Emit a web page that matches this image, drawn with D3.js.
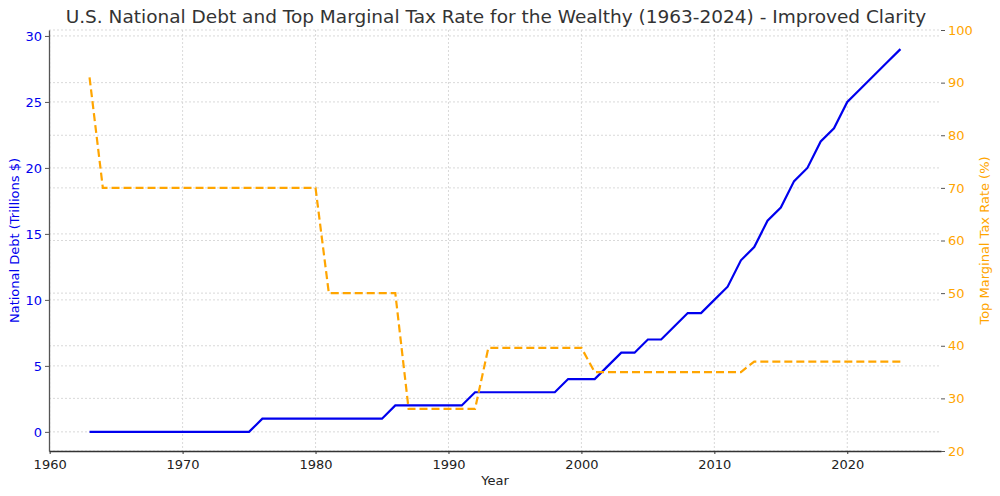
<!DOCTYPE html>
<html>
<head>
<meta charset="utf-8">
<script src="https://cdn.jsdelivr.net/npm/d3@7"></script>
<style>
  body { margin: 0; background: #fff; }
  text { font-family: "DejaVu Sans", sans-serif; }
</style>
</head>
<body>
<div id="chart"></div>
<script>
// years 1963..2024
const years = d3.range(1963, 2025);

// national debt, trillions $
const debt = [
  0, 0, 0, 0, 0, 0, 0, 0, 0, 0, 0, 0, 0,      // 1963-1975
  1, 1, 1, 1, 1, 1, 1, 1, 1, 1,               // 1976-1985
  2, 2, 2, 2, 2, 2,                           // 1986-1991
  3, 3, 3, 3, 3, 3, 3,                        // 1992-1998
  4, 4, 4,                                    // 1999-2001
  5, 6, 6, 7, 7, 8, 9, 9, 10, 11,             // 2002-2011
  13, 14, 16, 17, 19, 20, 22, 23, 25,         // 2012-2020
  26, 27, 28, 29                              // 2021-2024
];

// top marginal tax rate, %
const taxRate = [
  91,                                                          // 1963
  70, 70, 70, 70, 70, 70, 70, 70, 70, 70, 70, 70, 70, 70, 70, 70, 70, // 1964-1980
  50, 50, 50, 50, 50, 50,                                      // 1981-1986
  28, 28, 28, 28, 28, 28,                                      // 1987-1992
  39.6, 39.6, 39.6, 39.6, 39.6, 39.6, 39.6, 39.6,              // 1993-2000
  35, 35, 35, 35, 35, 35, 35, 35, 35, 35, 35, 35,              // 2001-2012
  37, 37, 37, 37, 37, 37, 37, 37, 37, 37, 37, 37               // 2013-2024
];

const xTicks = [1960, 1970, 1980, 1990, 2000, 2010, 2020];
const debtTicks = [0, 5, 10, 15, 20, 25, 30];
const taxTicks = [20, 30, 40, 50, 60, 70, 80, 90, 100];

const data = years.map((y, i) => ({year: y, debt: debt[i], tax: taxRate[i]}));

const W = 1000, H = 496;
const margin = {top: 30, right: 59, bottom: 45, left: 49};
const width = W - margin.left - margin.right;
const height = H - margin.top - margin.bottom;

const svg = d3.select('#chart').append('svg')
    .attr('width', W)
    .attr('height', H);

svg.append('text')
    .attr('x', 496)
    .attr('y', 23)
    .attr('text-anchor', 'middle')
    .attr('fill', '#333')
    .style('font-size', '18.5px')
    .text('U.S. National Debt and Top Marginal Tax Rate for the Wealthy (1963-2024) - Improved Clarity');

const g = svg.append('g')
    .attr('transform', `translate(${margin.left},${margin.top})`);

const xPad = (2024 - 1963) * 0.05;
const x = d3.scaleLinear()
    .domain([1963 - xPad, 2024 + xPad])
    .range([0, width]);

const yPad = 29 * 0.05;
const yL = d3.scaleLinear()
    .domain([-yPad, 29 + yPad])
    .range([height, 0]);

const yR = d3.scaleLinear()
    .domain([20, 100])
    .range([height, 0]);

// grid
const grid = g.append('g')
    .attr('stroke', '#cfcfcf')
    .attr('stroke-width', 0.8)
    .attr('stroke-dasharray', '2,2');

grid.selectAll('.gx')
    .data(xTicks)
    .enter().append('line')
    .attr('x1', d => x(d)).attr('x2', d => x(d))
    .attr('y1', 0).attr('y2', height);

grid.selectAll('.gl')
    .data(debtTicks)
    .enter().append('line')
    .attr('x1', 0).attr('x2', width)
    .attr('y1', d => yL(d)).attr('y2', d => yL(d));

grid.selectAll('.gr')
    .data(taxTicks)
    .enter().append('line')
    .attr('x1', 0).attr('x2', width)
    .attr('y1', d => yR(d)).attr('y2', d => yR(d));

// lines
const debtLine = d3.line()
    .x(d => x(d.year))
    .y(d => yL(d.debt));

const taxLine = d3.line()
    .x(d => x(d.year))
    .y(d => yR(d.tax));

g.append('path')
    .datum(data)
    .attr('fill', 'none')
    .attr('stroke', '#0000ee')
    .attr('stroke-width', 2.2)
    .attr('d', debtLine);

g.append('path')
    .datum(data)
    .attr('fill', 'none')
    .attr('stroke', '#ffa500')
    .attr('stroke-width', 2.2)
    .attr('stroke-dasharray', '8,4')
    .attr('d', taxLine);

// axes
const xAxis = g.append('g')
    .attr('transform', `translate(0,${height})`)
    .call(d3.axisBottom(x).tickValues(xTicks).tickFormat(d3.format('d')).tickSize(3).tickSizeOuter(0));
xAxis.select('.domain').attr('stroke', '#333').attr('stroke-width', 1.3);
xAxis.selectAll('.tick line').attr('stroke', '#333');
xAxis.selectAll('text').attr('fill', '#222').style('font-size', '13px').attr('dy', '0.9em');

const leftAxis = g.append('g')
    .call(d3.axisLeft(yL).tickValues(debtTicks).tickSize(4).tickSizeOuter(0));
leftAxis.select('.domain').attr('stroke', '#555').attr('stroke-width', 1.3);
leftAxis.selectAll('.tick line').attr('stroke', '#555');
leftAxis.selectAll('text').attr('fill', '#0000ee').style('font-size', '13px');

const rightAxis = g.append('g')
    .attr('transform', `translate(${width},0)`)
    .call(d3.axisRight(yR).tickValues(taxTicks).tickSize(4).tickSizeOuter(0));
rightAxis.select('.domain').remove();
rightAxis.selectAll('.tick line').attr('stroke', '#555');
rightAxis.selectAll('text').attr('fill', '#ffa500').style('font-size', '13px');

// axis labels
svg.append('text')
    .attr('x', margin.left + width / 2)
    .attr('y', 485)
    .attr('text-anchor', 'middle')
    .attr('fill', '#222')
    .style('font-size', '13px')
    .text('Year');

svg.append('text')
    .attr('transform', `translate(19,${margin.top + height / 2}) rotate(-90)`)
    .attr('text-anchor', 'middle')
    .attr('fill', '#0000ee')
    .style('font-size', '13px')
    .text('National Debt (Trillions $)');

svg.append('text')
    .attr('transform', `translate(989,${margin.top + height / 2}) rotate(-90)`)
    .attr('text-anchor', 'middle')
    .attr('fill', '#ffa500')
    .style('font-size', '13px')
    .text('Top Marginal Tax Rate (%)');
</script>
</body>
</html>
